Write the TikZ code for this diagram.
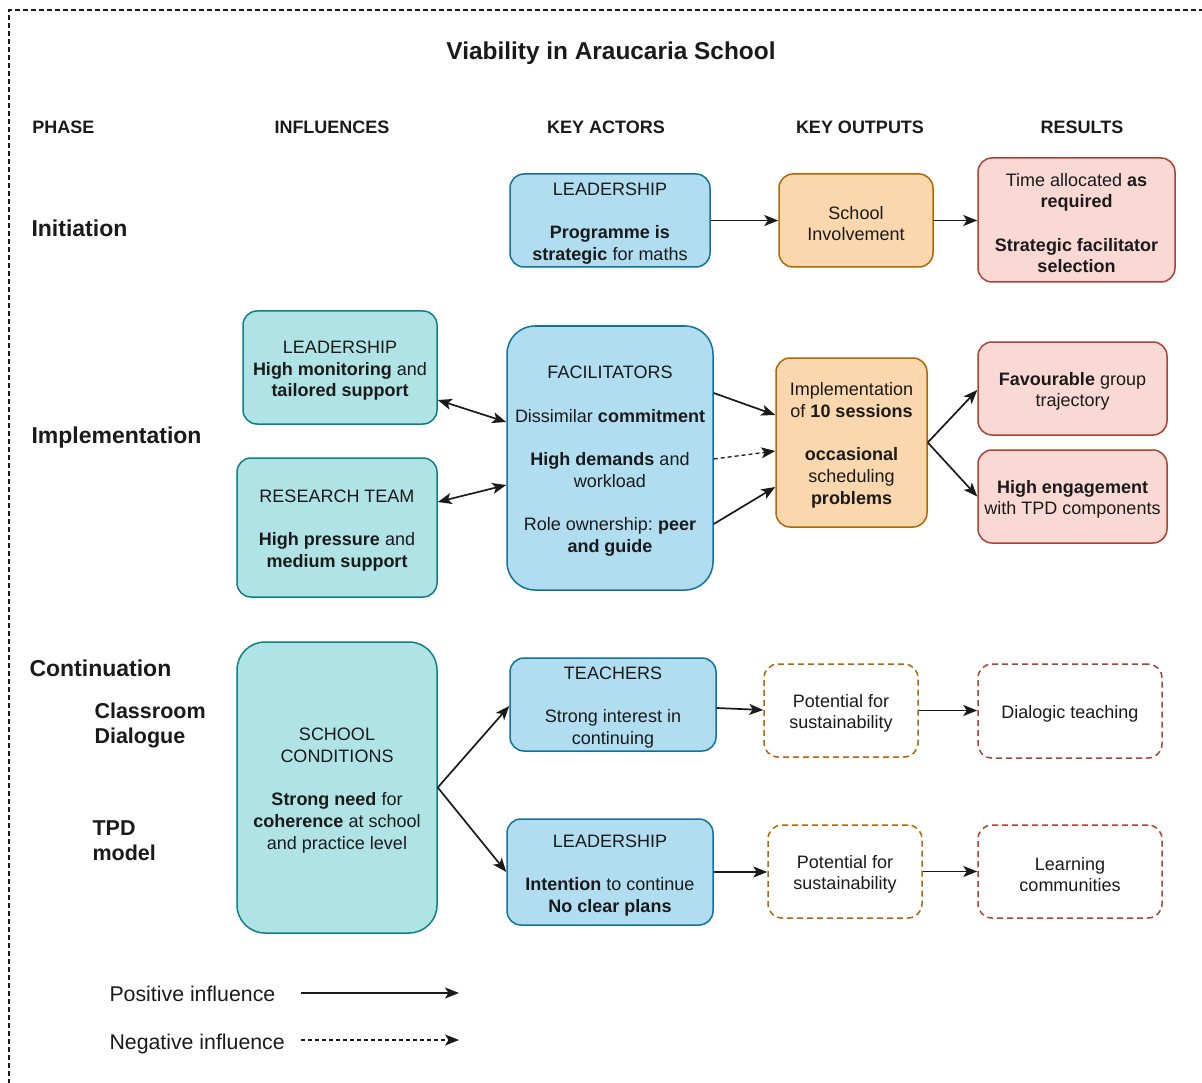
\documentclass[tikz,border=0pt]{standalone}
\usepackage{fontspec}
\setmainfont{Liberation Sans}
\usetikzlibrary{arrows.meta,calc}

\definecolor{bluefill}{HTML}{B1DDF0}
\definecolor{bluedraw}{HTML}{10739E}
\definecolor{tealfill}{HTML}{B0E3E6}
\definecolor{tealdraw}{HTML}{0E8088}
\definecolor{orangefill}{HTML}{FAD7AC}
\definecolor{orangedraw}{HTML}{B46504}
\definecolor{redfill}{HTML}{FAD9D5}
\definecolor{reddraw}{HTML}{AE4132}
\definecolor{inkcol}{HTML}{1A1A1A}

\newcommand{\bodyfont}{\fontsize{18}{21.7}\selectfont\frenchspacing}
\newcommand{\headfont}{\fontsize{18}{21.7}\selectfont\bfseries}
\newcommand{\phasefont}{\fontsize{23}{27}\selectfont\bfseries}
\newcommand{\subphasefont}{\fontsize{21.5}{25}\selectfont\bfseries}
\newcommand{\gap}{\\[21.7pt]}
% tall strut for the first line of a box: sets the text block a little low
\newcommand{\tl}{\rule{0pt}{19pt}}

\tikzset{
  box/.style={draw, line width=1.5pt, align=center, inner sep=0pt,
    rounded corners=14pt, font=\bodyfont, text=inkcol},
  bluebox/.style={box, fill=bluefill, draw=bluedraw},
  tealbox/.style={box, fill=tealfill, draw=tealdraw},
  orangebox/.style={box, fill=orangefill, draw=orangedraw},
  redbox/.style={box, fill=redfill, draw=reddraw},
  dashbox/.style={box, fill=white, dash pattern=on 6pt off 4pt},
  tip/.tip={Stealth[length=14pt,width=11pt,inset=3.5pt]},
  arr/.style={line width=1.7pt, draw=inkcol, -tip},
  biarr/.style={arr, tip-tip},
  negarr/.style={arr, line width=1.3pt, dash pattern=on 4pt off 3pt},
  head/.style={font=\headfont, text=inkcol},
  phase/.style={font=\phasefont, text=inkcol, anchor=west, align=left},
  subphase/.style={font=\subphasefont, text=inkcol, anchor=west, align=left},
}

\begin{document}
\begin{tikzpicture}[x=1pt,y=-1pt]
\useasboundingbox (0,0) rectangle (1202,1083);

% outer dashed frame
\draw[line width=1.3pt, draw=inkcol, dash pattern=on 5pt off 3pt]
  (9,1100) -- (9,10) -- (1220,10);

% title and column headers
\node[font=\fontsize{24.4}{28}\selectfont\bfseries, text=inkcol] (title) at (611,53.5) {Viability in Araucaria School};
\node[head] (hphase) at (63.5,127) {PHASE};
\node[head] (hinfl) at (332,127) {INFLUENCES};
\node[head] (hact) at (606,127) {KEY ACTORS};
\node[head] (hout) at (860,127) {KEY OUTPUTS};
\node[head] (hres) at (1082,127) {RESULTS};

% phase labels
\node[phase] (pinit) at (28,228) {Initiation};
\node[phase] (pimpl) at (28,438) {Implementation};
\node[phase] (pcont) at (26,668) {Continuation};
\node[subphase] (pclass) at (91,725.5) {Classroom\\Dialogue};
\node[subphase] (ptpd) at (89,840.5) {TPD\\model};

% initiation row
\node[bluebox, minimum width=200pt, minimum height=93pt] (lead1) at (610,220.5)
  {\tl LEADERSHIP\gap\textbf{Programme is}\\\textbf{strategic} for maths};
\node[orangebox, minimum width=154pt, minimum height=93pt] (inv) at (856,220.5)
  {\tl School\\Involvement};
\node[redbox, minimum width=197pt, minimum height=124pt] (res1) at (1076.5,220)
  {\tl Time allocated \textbf{as}\\\textbf{required}\gap\textbf{Strategic facilitator}\\\textbf{selection}};

% implementation row
\node[tealbox, minimum width=194pt, minimum height=113pt] (lead2) at (340,367.5)
  {\tl LEADERSHIP\\\textbf{High monitoring} and\\\textbf{tailored support}};
\node[tealbox, minimum width=200pt, minimum height=139pt] (rteam) at (337,527.5)
  {\tl RESEARCH TEAM\gap\textbf{High pressure} and\\\textbf{medium support}};
\node[bluebox, rounded corners=28pt, minimum width=206pt, minimum height=264pt] (fac) at (610,458)
  {\tl FACILITATORS\gap Dissimilar \textbf{commitment}\gap\textbf{High demands} and\\workload\gap Role ownership: \textbf{peer}\\\textbf{and guide}};
\node[orangebox, minimum width=151pt, minimum height=169pt] (impl) at (851.5,442.5)
  {\tl Implementation\\of \textbf{10 sessions}\gap\textbf{occasional}\\scheduling\\\textbf{problems}};
\node[redbox, minimum width=189pt, minimum height=93pt] (fav) at (1072.5,388.5)
  {\tl\textbf{Favourable} group\\trajectory};
\node[redbox, minimum width=189pt, minimum height=93pt] (eng) at (1072.5,496.5)
  {\tl\textbf{High engagement}\\with TPD components};

% continuation row
\node[tealbox, rounded corners=28pt, minimum width=200pt, minimum height=291pt] (cond) at (337,787.5)
  {\tl SCHOOL\\CONDITIONS\gap\textbf{Strong need} for\\\textbf{coherence} at school\\and practice level};
\node[bluebox, minimum width=206pt, minimum height=93pt] (teach) at (613,704.5)
  {\tl TEACHERS\gap Strong interest in\\continuing};
\node[bluebox, minimum width=206pt, minimum height=106pt] (lead3) at (610,872)
  {\tl LEADERSHIP\gap\textbf{Intention} to continue\\\textbf{No clear plans}};
\node[dashbox, draw=orangedraw, minimum width=154pt, minimum height=93pt] (pot1) at (841,710.5)
  {\tl Potential for\\sustainability};
\node[dashbox, draw=orangedraw, minimum width=154pt, minimum height=93pt] (pot2) at (845,871.5)
  {\tl Potential for\\sustainability};
\node[dashbox, draw=reddraw, minimum width=184pt, minimum height=94pt] (dial) at (1070,711)
  {\tl Dialogic teaching};
\node[dashbox, draw=reddraw, minimum width=184pt, minimum height=93pt] (learn) at (1070,871.5)
  {\tl Learning\\communities};

% connectors: initiation
\draw[arr] (lead1.east) -- (inv.west);
\draw[arr] (inv.east) -- (res1.west |- inv.east);

% connectors: implementation
\draw[biarr] ($(lead2.east)+(0,32.5)$) -- ($(fac.west)+(0,-36)$);
\draw[biarr] ($(rteam.east)+(0,-25.5)$) -- ($(fac.west)+(0,27)$);
\draw[arr] ($(fac.east)+(0,-65)$) -- ($(impl.west)+(0,-27.5)$);
\draw[negarr] ($(fac.east)+(0,1)$) -- ($(impl.west)+(0,8.5)$);
\draw[arr] ($(fac.east)+(0,66)$) -- ($(impl.west)+(0,44.5)$);
\draw[arr] (impl.east) -- ($(fav.west)+(0,1.5)$);
\draw[arr] (impl.east) -- (eng.west);

% connectors: continuation
\draw[arr] (cond.east) -- ($(teach.west)+(0,1.5)$);
\draw[arr] (cond.east) -- (lead3.west);
\draw[arr] ($(teach.east)+(0,3.5)$) -- ($(pot1.west)+(0,-0.5)$);
\draw[arr] (pot1.east) -- (dial.west |- pot1.east);
\draw[arr] (lead3.east) -- (pot2.west |- lead3.east);
\draw[arr] (pot2.east) -- (learn.west);

% legend
\node[font=\fontsize{21.3}{25}\selectfont, text=inkcol, anchor=west] (lpos) at (106,994) {Positive influence};
\node[font=\fontsize{21.3}{25}\selectfont, text=inkcol, anchor=west] (lneg) at (106,1044) {Negative influence};
\coordinate (posA) at (301,993);
\coordinate (posB) at (459,993);
\coordinate (negA) at (301,1040);
\coordinate (negB) at (459,1040);
\draw[arr] (posA) -- (posB);
\draw[negarr] (negA) -- (negB);
\end{tikzpicture}
\end{document}
